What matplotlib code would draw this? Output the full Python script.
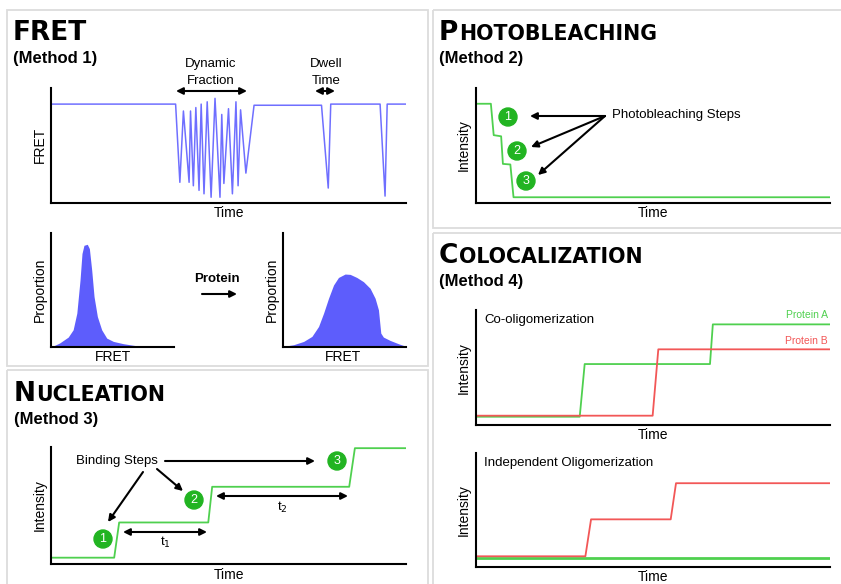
import matplotlib
matplotlib.use('Agg')
from matplotlib import pyplot as plt
from matplotlib.patches import Rectangle, Circle

plt.rcParams['font.family'] = ['Liberation Sans', 'DejaVu Sans']

W, H = 841, 584

# FRET trace (time 0-100, FRET 0-1)
fret_t = [0.4, 35.1, 36.3, 37.3, 38.9, 39.3, 40.1, 40.8, 41.7, 42.3, 43.1, 44.0, 45.1, 46.2,
          47.6, 48.1, 48.7, 50.0, 51.1, 52.1, 52.7, 53.4, 54.9, 57.2, 76.2, 78.1, 78.8,
          92.7, 94.1, 94.7, 100]
fret_v = [0.86, 0.86, 0.18, 0.80, 0.18, 0.80, 0.15, 0.83, 0.11, 0.86, 0.08, 0.88, 0.05, 0.91,
          0.05, 0.77, 0.17, 0.82, 0.08, 0.88, 0.15, 0.81, 0.26, 0.85, 0.85, 0.13, 0.86,
          0.86, 0.06, 0.86, 0.86]

# FRET histograms before / after protein
hist1_x = [0.0, 0.07, 0.14, 0.18, 0.21, 0.236, 0.252, 0.268, 0.295, 0.312, 0.331, 0.35,
           0.377, 0.412, 0.453, 0.507, 0.588, 0.724, 0.832]
hist1_y = [0.0, 0.035, 0.087, 0.151, 0.297, 0.587, 0.820, 0.892, 0.901, 0.863, 0.674, 0.442,
           0.267, 0.151, 0.078, 0.049, 0.029, 0.006, 0.0]
hist2_x = [0.005, 0.086, 0.168, 0.235, 0.289, 0.330, 0.370, 0.411, 0.451, 0.505, 0.546,
           0.600, 0.654, 0.708, 0.749, 0.776, 0.795, 0.816, 0.870, 0.938, 1.0]
hist2_y = [0.006, 0.020, 0.049, 0.093, 0.180, 0.297, 0.427, 0.544, 0.610, 0.640, 0.637,
           0.610, 0.573, 0.515, 0.427, 0.326, 0.122, 0.087, 0.058, 0.029, 0.006]

# photobleaching trace
bleach_t = [0.3, 4.2, 5.0, 7.1, 7.6, 9.7, 10.6, 100]
bleach_i = [0.863, 0.863, 0.59, 0.58, 0.34, 0.335, 0.05, 0.05]

# nucleation trace
nuc_t = [0.4, 17.8, 19.2, 44.3, 45.4, 84.0, 85.6, 100]
nuc_i = [0.054, 0.054, 0.355, 0.355, 0.66, 0.66, 0.99, 0.99]

# colocalization: co-oligomerization
coA_t = [0.3, 29.3, 30.7, 66.1, 66.9, 100]
coA_i = [0.072, 0.072, 0.53, 0.53, 0.875, 0.875]
coB_t = [0.3, 49.9, 51.5, 100]
coB_i = [0.081, 0.081, 0.658, 0.658]

# colocalization: independent oligomerization
indA_t = [0.3, 100]
indA_i = [0.082, 0.082]
indB_t = [0.3, 30.9, 32.5, 55.0, 56.5, 100]
indB_i = [0.094, 0.094, 0.418, 0.418, 0.735, 0.735]

BLUE = '#6f6fff'
FILL = '#5d5dfc'
GREEN = '#4fd04f'
DKGREEN = '#22b422'
RED = '#f25757'

fig = plt.figure(figsize=(W / 100, H / 100), dpi=100)


def px_axes(l, t, r, b, xlim=(0, 100), ylim=(0, 1)):
    ax = fig.add_axes([l / W, 1 - b / H, (r - l) / W, (b - t) / H])
    ax.set_xlim(*xlim)
    ax.set_ylim(*ylim)
    for s in ['top', 'right']:
        ax.spines[s].set_visible(False)
    for s in ['left', 'bottom']:
        ax.spines[s].set_linewidth(1.5)
    ax.set_xticks([])
    ax.set_yticks([])
    ax.patch.set_alpha(0)
    return ax


# FRET panel
ax = px_axes(51, 88, 406, 203)
ax.plot(fret_t, fret_v, color=BLUE, lw=1.1)
ax = px_axes(51, 233, 174, 347, xlim=(0, 1))
ax.fill_between(hist1_x, hist1_y, color=FILL, lw=0)
ax = px_axes(283, 233, 406, 347, xlim=(0, 1))
ax.fill_between(hist2_x, hist2_y, color=FILL, lw=0)

# photobleaching
ax = px_axes(476, 88, 830, 203)
ax.plot(bleach_t, bleach_i, color=GREEN, lw=1.3)

# nucleation
ax = px_axes(51, 447, 406, 564)
ax.plot(nuc_t, nuc_i, color=GREEN, lw=1.3)

# colocalization
ax = px_axes(476, 310, 830, 425)
ax.plot(coA_t, coA_i, color=GREEN, lw=1.3)
ax.plot(coB_t, coB_i, color=RED, lw=1.3)
ax = px_axes(476, 453, 830, 567)
ax.plot(indA_t, indA_i, color=GREEN, lw=2)
ax.plot(indB_t, indB_i, color=RED, lw=1.3)

# overlay in pixel coordinates for boxes, text and arrows
ov = fig.add_axes([0, 0, 1, 1])
ov.set_xlim(0, W)
ov.set_ylim(H, 0)
ov.axis('off')
ov.patch.set_alpha(0)

for (l, t, r, b) in [(7, 10, 428, 366), (7, 370, 428, 590), (433, 10, 845, 228), (433, 233, 845, 590)]:
    ov.add_patch(Rectangle((l, t), r - l, b - t, fill=False, ec='#dcdcdc', lw=1.3, clip_on=False))

renderer = fig.canvas.get_renderer()
TFONT = ['DejaVu Sans']


def smallcaps(x, y, first, rest, big=19, small=14.8):
    t1 = ov.text(x, y, first, fontsize=big, fontweight='bold', family=TFONT,
                 va='baseline', ha='left')
    bb = t1.get_window_extent(renderer)
    x2 = x + bb.width + 0.5
    ov.text(x2, y, rest, fontsize=small, fontweight='bold', family=TFONT,
            va='baseline', ha='left')


def method(x, y, s):
    ov.text(x, y, s, fontsize=12, fontweight='bold', va='baseline', ha='left')


ov.text(13, 40, 'FRET', fontsize=19, fontweight='bold', family=TFONT, va='baseline')
method(13, 63, '(Method 1)')
smallcaps(439, 40, 'P', 'HOTOBLEACHING')
method(439, 63, '(Method 2)')
smallcaps(14, 401, 'N', 'UCLEATION')
method(14, 424, '(Method 3)')
smallcaps(439, 263, 'C', 'OLOCALIZATION')
method(439, 286, '(Method 4)')

lab = dict(fontsize=10, ha='center', va='center')
ov.text(40, 145, 'FRET', rotation=90, **lab)
ov.text(229, 213, 'Time', **lab)
ov.text(40, 290, 'Proportion', rotation=90, **lab)
ov.text(272, 290, 'Proportion', rotation=90, **lab)
ov.text(113, 357, 'FRET', **lab)
ov.text(343, 357, 'FRET', **lab)
ov.text(464, 145, 'Intensity', rotation=90, **lab)
ov.text(653, 213, 'Time', **lab)
ov.text(40, 505, 'Intensity', rotation=90, **lab)
ov.text(229, 575, 'Time', **lab)
ov.text(464, 368, 'Intensity', rotation=90, **lab)
ov.text(653, 435, 'Time', **lab)
ov.text(464, 510, 'Intensity', rotation=90, **lab)
ov.text(653, 577, 'Time', **lab)

ann = dict(fontsize=9.5, ha='center', va='center')
ov.text(211, 64, 'Dynamic', **ann)
ov.text(211, 81, 'Fraction', **ann)
ov.text(326, 64, 'Dwell', **ann)
ov.text(326, 81, 'Time', **ann)
ov.text(217, 279, 'Protein', fontsize=9.5, fontweight='bold', ha='center', va='center')
ov.text(612, 115, 'Photobleaching Steps', fontsize=9.5, ha='left', va='center')
ov.text(117, 461, 'Binding Steps', **ann)
ov.text(484, 320, 'Co-oligomerization', fontsize=9.5, ha='left', va='center')
ov.text(484, 463, 'Independent Oligomerization', fontsize=9.5, ha='left', va='center')
ov.text(828, 315, 'Protein A', fontsize=7.5, color=GREEN, ha='right', va='center')
ov.text(828, 341, 'Protein B', fontsize=7.5, color=RED, ha='right', va='center')
ov.text(165, 542, 't$_1$', **ann)
ov.text(282, 507, 't$_2$', **ann)


def arrow(x1, y1, x2, y2, style='-|>'):
    ov.annotate('', xy=(x2, y2), xytext=(x1, y1),
                arrowprops=dict(arrowstyle=style, color='black', lw=1.5,
                                mutation_scale=10, shrinkA=0, shrinkB=0))


arrow(176, 91, 247, 91, '<|-|>')
arrow(315, 91, 335, 91, '<|-|>')
arrow(202, 294, 237, 294)
arrow(605, 116, 530, 116)
arrow(605, 116, 531, 147)
arrow(605, 116, 538, 175)
arrow(165, 461, 315, 461)
arrow(143, 472, 108, 522)
arrow(157, 469, 183, 491)
arrow(123, 532, 207, 532, '<|-|>')
arrow(216, 496, 348, 496, '<|-|>')

for (cx, cy, n) in [(508, 117, '1'), (517, 151, '2'), (526, 181, '3'),
                    (103, 539, '1'), (194, 500, '2'), (337, 461, '3')]:
    ov.add_patch(Circle((cx, cy), 9, color=DKGREEN, clip_on=False))
    ov.text(cx, cy, n, color='white', fontsize=9, ha='center', va='center')

plt.savefig('out.png', dpi=100)
